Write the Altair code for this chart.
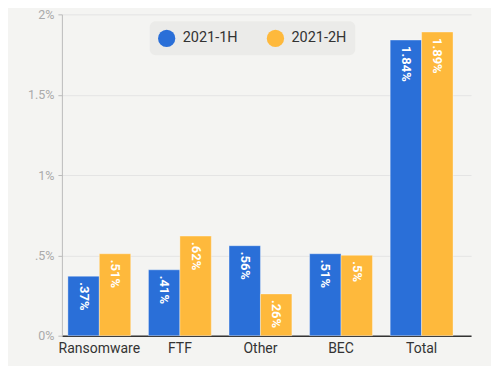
import altair as alt
import pandas as pd

categories = ["Ransomware", "FTF", "Other", "BEC", "Total"]
series = ["2021-1H", "2021-2H"]
values_1h = [0.37, 0.41, 0.56, 0.51, 1.84]
values_2h = [0.51, 0.62, 0.26, 0.50, 1.89]
y_ticks = [0, 0.5, 1, 1.5, 2]
colors = ["#2a6fd8", "#feb93c"]

rows = []
for c, a, b in zip(categories, values_1h, values_2h):
    rows.append({"cat": c, "series": series[0], "v": a})
    rows.append({"cat": c, "series": series[1], "v": b})
df = pd.DataFrame(rows)

xscale = alt.Scale(domain=categories, paddingInner=0.22, paddingOuter=0.149, align=0.25)
x = alt.X("cat:N", sort=categories, scale=xscale, title=None,
          axis=alt.Axis(labelAngle=0, labelFontSize=14, labelColor="#333333", labelFont="Roboto",
                        ticks=False, labelPadding=6, domainColor="#333333", domainWidth=1.5,
                        grid=False))
xoff = alt.XOffset("series:N", sort=series, scale=alt.Scale(paddingInner=0, paddingOuter=0))
y = alt.Y("v:Q", scale=alt.Scale(domain=[0, 2], nice=False), title=None,
          axis=alt.Axis(values=y_ticks, labelExpr="datum.value == 0 ? '0%' : replace(format(datum.value, '~g'), '0.', '.') + '%'",
                        labelColor="#aaaaaa", labelFontSize=12.5, labelFont="Roboto", tickSize=4,
                        tickColor="#bbbbbb", domainColor="#bbbbbb", labelPadding=4,
                        gridColor="#e4e4e4", grid=True))

bars = alt.Chart(df).mark_bar(stroke="#ffffff", strokeOpacity=0.35, strokeWidth=1).encode(
    x=x, xOffset=xoff, y=y,
    color=alt.Color("series:N", sort=series, scale=alt.Scale(domain=series, range=colors),
                    legend=alt.Legend(title=None, orient="none", legendX=88, legendY=7,
                                      direction="horizontal", fillColor="#ebebe9", cornerRadius=6,
                                      padding=8, symbolType="circle", symbolSize=300,
                                      symbolStrokeWidth=0, labelFontSize=14.5, labelFont="Roboto",
                                      labelColor="#333333", columnPadding=28, labelOffset=7)),
)

labels = alt.Chart(df).transform_calculate(
    label="replace(format(datum.v, '.2~f'), '0.', '.') + '%'"
).mark_text(angle=90, align="left", baseline="middle", dx=6, color="white",
            fontWeight="bold", fontSize=13, font="Roboto").encode(
    x=alt.X("cat:N", sort=categories, scale=xscale),
    xOffset=xoff,
    y=alt.Y("v:Q"),
    text="label:N",
)

chart = alt.layer(bars, labels).properties(
    width=410, height=322,
    background="#f4f4f2",
    padding={"left": 54, "top": 6, "right": 20, "bottom": 30},
    autosize=alt.AutoSizeParams(type="none"),
).configure_view(stroke=None)

chart.save("out.html", embed_options={"renderer": "svg", "actions": False})
